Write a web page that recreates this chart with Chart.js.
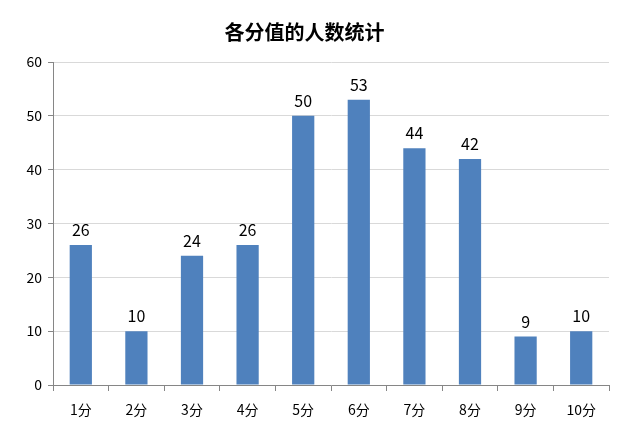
<!DOCTYPE html>
<html>
<head>
<meta charset="utf-8">
<script src="https://cdn.jsdelivr.net/npm/chart.js@4"></script>
<style>
  html, body { margin: 0; padding: 0; background: #fff; }
  #wrap { width: 640px; height: 428px; }
</style>
</head>
<body>
<div id="wrap"><canvas id="myChart"></canvas></div>
<script>
const categories = ["1分", "2分", "3分", "4分", "5分", "6分", "7分", "8分", "9分", "10分"];
const counts = [26, 10, 24, 26, 50, 53, 44, 42, 9, 10];
const titleText = "各分值的人数统计";

const fontFamily = "'Noto Sans CJK SC', 'Noto Sans', sans-serif";

// draw the value above each bar
const valueLabels = {
    id: 'valueLabels',
    afterDatasetsDraw(chart) {
        const ctx = chart.ctx;
        const meta = chart.getDatasetMeta(0);
        ctx.save();
        ctx.font = "16px " + fontFamily;
        ctx.fillStyle = "#000";
        ctx.textAlign = "center";
        ctx.textBaseline = "alphabetic";
        meta.data.forEach((bar, i) => {
            ctx.fillText(counts[i], bar.x, bar.y - 9);
        });
        ctx.restore();
    }
};

const ctx = document.getElementById('myChart').getContext('2d');
new Chart(ctx, {
    type: 'bar',
    data: {
        labels: categories,
        datasets: [{
            data: counts,
            backgroundColor: "#4f81bd",
            barPercentage: 0.4,
            categoryPercentage: 1.0
        }]
    },
    options: {
        responsive: true,
        maintainAspectRatio: false,
        animation: false,
        layout: { padding: { left: 0, right: 31, top: 0, bottom: 0 } },
        plugins: {
            legend: { display: false },
            tooltip: { enabled: false },
            title: {
                display: true,
                text: titleText,
                color: "#000",
                font: { family: fontFamily, size: 20, weight: 'bold' },
                padding: { top: 20, bottom: 18 }
            }
        },
        scales: {
            x: {
                offset: true,
                border: { color: "#868686" },
                grid: { display: true, offset: true, drawOnChartArea: false, drawTicks: true, tickLength: 6, color: "#868686" },
                ticks: { color: "#000", font: { family: fontFamily, size: 14 }, padding: 10 },
                afterFit(scale) { scale.height = 43; }
            },
            y: {
                min: 0,
                max: 60,
                border: { color: "#868686" },
                grid: { color: "#d9d9d9", tickLength: 5, tickColor: "#868686" },
                ticks: { stepSize: 10, color: "#000", font: { family: fontFamily, size: 14 }, padding: 6 },
                afterFit(scale) { scale.width = 53; }
            }
        }
    },
    plugins: [valueLabels]
});
</script>
</body>
</html>
